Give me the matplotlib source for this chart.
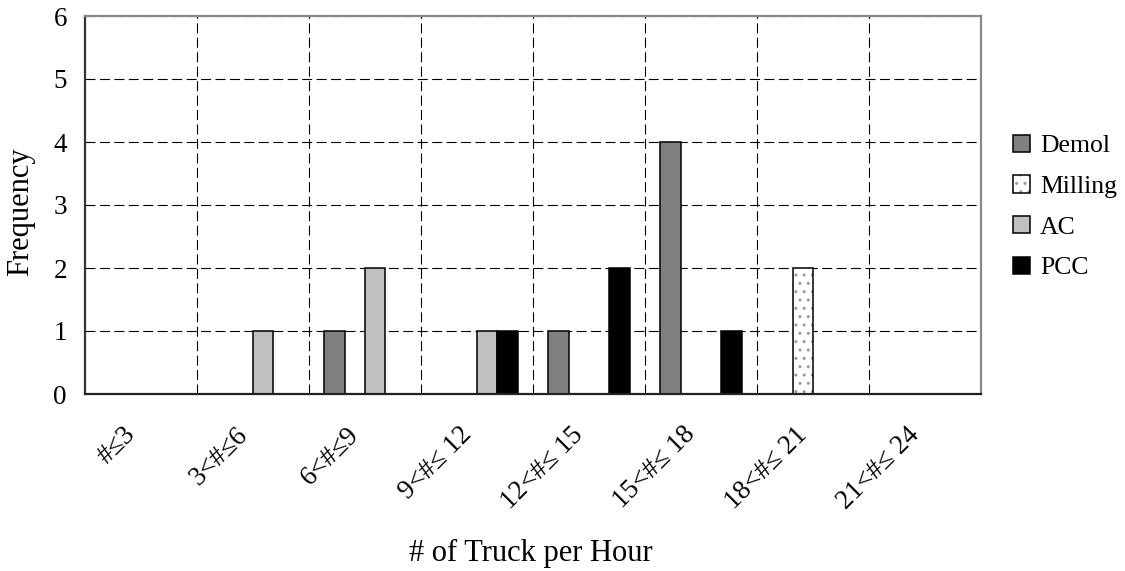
import matplotlib
matplotlib.use("Agg")
import matplotlib.pyplot as plt
import numpy as np
from matplotlib.patches import Patch
from matplotlib.legend_handler import HandlerTuple
import matplotlib.transforms as mtransforms

plt.rcParams['font.family'] = ['Liberation Serif', 'DejaVu Serif']

categories = ["#≤3", "3<#≤6", "6<#≤9", "9<#≤ 12", "12<#≤ 15", "15<#≤ 18", "18<#≤ 21", "21<#≤ 24"]
series_names = ["Demol", "Milling", "AC", "PCC"]
demol = [0, 0, 1, 0, 1, 4, 0, 0]
milling = [0, 0, 0, 0, 0, 0, 2, 0]
ac = [0, 1, 2, 1, 0, 0, 0, 0]
pcc = [0, 0, 0, 1, 2, 1, 0, 0]

W, H = 1125, 571
fig = plt.figure(figsize=(W / 100, H / 100), dpi=100)
ax = fig.add_axes([85 / W, 1 - 394 / H, (981 - 85) / W, (394 - 16) / H])

x = np.arange(len(categories))
bw = 1 / 5.5
edge_lw = 1.1

ax.bar(x - 1.5 * bw, demol, bw, color='#808080', edgecolor='black', linewidth=edge_lw, zorder=3)
ax.bar(x - 0.5 * bw, milling, bw, color='white', edgecolor='#9a9a9a', hatch='..', linewidth=0, zorder=3)
ax.bar(x - 0.5 * bw, milling, bw, fill=False, edgecolor='black', linewidth=edge_lw, zorder=4)
ax.bar(x + 0.5 * bw, ac, bw, color='#c0c0c0', edgecolor='black', linewidth=edge_lw, zorder=3)
ax.bar(x + 1.5 * bw, pcc, bw, color='black', edgecolor='black', linewidth=edge_lw, zorder=3)

ax.set_xlim(-0.5, len(categories) - 0.5)
ax.set_ylim(0, 6)
ax.set_yticks(range(0, 7))
ax.set_xticks(x)
ax.set_xticklabels(categories, rotation=45, ha='right', va='top', rotation_mode='anchor')
ax.set_xticks(np.arange(0.5, len(categories) - 0.5, 1), minor=True)

ax.tick_params(axis='y', length=0, pad=13, labelsize=19.5)
ax.tick_params(axis='x', which='both', length=0, pad=0, labelsize=19.5)

offset = mtransforms.ScaledTranslation(-18 / 100, -28 / 100, fig.dpi_scale_trans)
for lab in ax.get_xticklabels():
    lab.set_transform(lab.get_transform() + offset)

dash = (0, (9, 4))
ax.yaxis.grid(True, which='major', color='black', linestyle=dash, linewidth=0.8, zorder=1)
ax.xaxis.grid(True, which='minor', color='black', linestyle=dash, linewidth=0.8, zorder=1)
ax.xaxis.grid(False, which='major')
ax.set_axisbelow(True)

ax.spines['left'].set_color('#333333')
ax.spines['bottom'].set_color('#222222')
ax.spines['top'].set_color('#888888')
ax.spines['right'].set_color('#888888')
for s in ax.spines.values():
    s.set_linewidth(1.6)
    s.set_zorder(5)

fig.text(21 / W, 1 - 212 / H, "Frequency", rotation=90, ha='center', va='center', fontsize=22)
fig.text(531 / W, 1 - 553 / H, "# of Truck per Hour", ha='center', va='center', fontsize=22)

handles = [
    Patch(facecolor='#808080', edgecolor='black', linewidth=edge_lw),
    (Patch(facecolor='white', edgecolor='#9a9a9a', hatch='..', linewidth=0),
     Patch(fill=False, edgecolor='black', linewidth=edge_lw)),
    Patch(facecolor='#c0c0c0', edgecolor='black', linewidth=edge_lw),
    Patch(facecolor='black', edgecolor='black', linewidth=edge_lw),
]
fs = 18.5
fspx = fs * 100 / 72
leg = fig.legend(handles, series_names, loc='center left',
                 bbox_to_anchor=(1013 / W, 1 - 207 / H), frameon=False,
                 fontsize=fs, handlelength=17 / fspx, handleheight=17 / fspx,
                 handletextpad=10 / fspx, labelspacing=(43.7 - fspx) / fspx,
                 borderpad=0, borderaxespad=0,
                 handler_map={tuple: HandlerTuple(ndivide=1, pad=0)})

fig.savefig("out.png", dpi=100)
